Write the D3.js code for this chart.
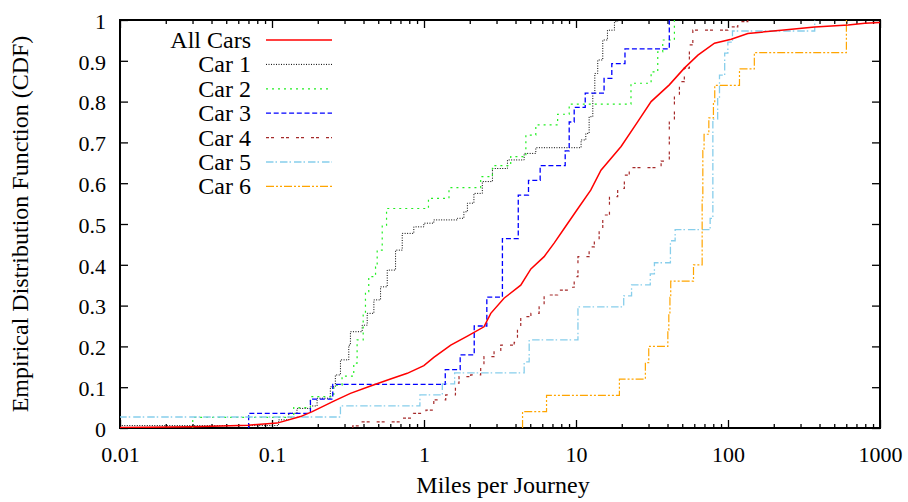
<!DOCTYPE html>
<html>
<head>
<meta charset="utf-8">
<script src="https://cdn.jsdelivr.net/npm/d3@7"></script>
<style>
  body { margin: 0; background: #fff; }
  svg { display: block; font-family: "Liberation Serif", "Times New Roman", serif; }
</style>
</head>
<body>
<svg id="chart"></svg>
<script>
// values (miles per journey, cumulative fraction)
const seriesNames = ["All Cars", "Car 1", "Car 2", "Car 3", "Car 4", "Car 5", "Car 6"];

const allMiles = [0.01, 0.0303, 0.0698, 0.108, 0.154, 0.184, 0.255, 0.328, 0.445, 0.602, 0.776, 0.998, 1.16, 1.50, 1.93, 2.48, 2.75, 3.36, 4.33, 5.05, 6.17, 7.18, 8.36, 10.3, 12.5, 14.6, 19.8, 25.5, 31.2, 41.1, 51.6, 63.4, 81.5, 105, 135, 224, 372, 617, 794, 1000];
const allCdf = [0.001, 0.003, 0.007, 0.012, 0.028, 0.04, 0.066, 0.085, 0.103, 0.12, 0.134, 0.153, 0.173, 0.203, 0.225, 0.248, 0.281, 0.318, 0.350, 0.390, 0.42, 0.453, 0.489, 0.538, 0.583, 0.632, 0.69, 0.751, 0.80, 0.841, 0.882, 0.914, 0.943, 0.953, 0.967, 0.975, 0.983, 0.988, 0.992, 0.994];

const car1Miles = [0.005, 0.1105, 0.129, 0.146, 0.179, 0.198, 0.242, 0.261, 0.282, 0.320, 0.328, 0.392, 0.423, 0.468, 0.518, 0.573, 0.650, 0.719, 0.857, 0.998, 1.16, 1.66, 1.83, 1.93, 2.13, 2.42, 2.82, 3.54, 4.56, 5.44, 10.8, 11.6, 12.2, 12.9, 13.3, 13.9, 15.0, 16.1, 17.9, 18.8];
const car1Cdf = [0.006, 0.02, 0.036, 0.048, 0.054, 0.073, 0.101, 0.13, 0.167, 0.203, 0.236, 0.252, 0.281, 0.314, 0.346, 0.387, 0.436, 0.477, 0.493, 0.502, 0.51, 0.514, 0.53, 0.551, 0.575, 0.604, 0.636, 0.657, 0.673, 0.687, 0.706, 0.722, 0.763, 0.82, 0.869, 0.902, 0.951, 0.975, 0.996, 1.0];

const car2Miles = [0.0301, 0.139, 0.179, 0.255, 0.289, 0.345, 0.363, 0.398, 0.412, 0.433, 0.480, 0.492, 0.531, 0.567, 1.07, 1.46, 2.36, 2.82, 3.72, 4.68, 5.44, 7.57, 9.02, 23.0, 31.2, 34.5, 37.2, 44.4];
const car2Cdf = [0.026, 0.05, 0.077, 0.105, 0.127, 0.159, 0.216, 0.277, 0.334, 0.371, 0.395, 0.436, 0.497, 0.538, 0.563, 0.589, 0.616, 0.643, 0.665, 0.718, 0.743, 0.769, 0.794, 0.845, 0.873, 0.922, 0.951, 1.0];

const car3Miles = [0.0702, 0.179, 0.251, 1.38, 1.73, 2.14, 2.59, 3.28, 4.17, 4.87, 5.81, 8.49, 9.02, 9.73, 11.5, 15.3, 17.2, 21.0, 41.1];
const car3Cdf = [0.036, 0.071, 0.107, 0.143, 0.179, 0.25, 0.321, 0.464, 0.571, 0.607, 0.643, 0.679, 0.75, 0.786, 0.821, 0.857, 0.893, 0.929, 1.0];

const car4Miles = [0.34, 0.392, 0.70, 0.853, 1.03, 1.16, 1.39, 1.61, 1.70, 2.03, 2.36, 2.48, 2.89, 3.20, 3.92, 4.12, 4.33, 5.05, 5.72, 6.17, 7.57, 9.25, 9.73, 10.3, 12.2, 13.2, 14.2, 15.0, 16.6, 18.8, 20.8, 22.4, 36.3, 41.1, 44.4, 47.9, 51.6, 55.7, 58.7, 99.8, 116, 135];
const car4Cdf = [0.005, 0.015, 0.024, 0.036, 0.044, 0.069, 0.081, 0.11, 0.126, 0.13, 0.15, 0.175, 0.19, 0.203, 0.21, 0.248, 0.273, 0.281, 0.297, 0.326, 0.338, 0.345, 0.371, 0.42, 0.444, 0.461, 0.485, 0.522, 0.567, 0.587, 0.62, 0.638, 0.654, 0.75, 0.816, 0.849, 0.882, 0.939, 0.975, 0.983, 0.996, 1.0];

const car5Miles = [0.005, 0.282, 0.94, 1.32, 1.59, 4.56, 4.92, 10.3, 20.6, 23.2, 30.8, 32.8, 41.8, 44.9, 76.3, 79.5, 85.5, 87.9, 95.1, 99.8, 107, 372];
const car5Cdf = [0.027, 0.054, 0.081, 0.108, 0.135, 0.162, 0.216, 0.297, 0.324, 0.351, 0.378, 0.405, 0.459, 0.486, 0.514, 0.757, 0.811, 0.865, 0.919, 0.946, 0.973, 1.0];

const car6Miles = [4.45, 6.4, 19.3, 28.6, 30.1, 40.2, 40.8, 41.5, 42.0, 59.3, 67.6, 68.3, 69.6, 74.8, 80.2, 81.8, 119, 149, 601];
const car6Cdf = [0.04, 0.08, 0.12, 0.16, 0.2, 0.24, 0.28, 0.32, 0.36, 0.40, 0.56, 0.68, 0.72, 0.76, 0.80, 0.84, 0.88, 0.92, 1.0];

const xTickValues = [0.01, 0.1, 1, 10, 100, 1000];
const xTickLabels = ["0.01", "0.1", "1", "10", "100", "1000"];
const yTickValues = [0, 0.1, 0.2, 0.3, 0.4, 0.5, 0.6, 0.7, 0.8, 0.9, 1];
const yTickLabels = ["0", "0.1", "0.2", "0.3", "0.4", "0.5", "0.6", "0.7", "0.8", "0.9", "1"];

const seriesMiles = [allMiles, car1Miles, car2Miles, car3Miles, car4Miles, car5Miles, car6Miles];
const seriesCdf = [allCdf, car1Cdf, car2Cdf, car3Cdf, car4Cdf, car5Cdf, car6Cdf];

// styles
const colors = ["#ff0000", "#000000", "#22ee22", "#0000ff", "#a52a2a", "#87ceeb", "#ffa500"];
const dashes = [null, "1,1.5", "2,4", "5,2.7", "3,2,3,7", "7.5,2,1.5,3", "8,2,2,2,2,2"];
const widths = [1.5, 1, 1.2, 1.3, 1.2, 1.3, 1.2];

const W = 908, H = 502;
const margin = { top: 20, right: 28, bottom: 74, left: 120 };
const width = W - margin.left - margin.right;
const height = H - margin.top - margin.bottom;

const svgEl = d3.select("#chart").attr("width", W).attr("height", H);
const svg = svgEl.append("g").attr("transform", `translate(${margin.left},${margin.top})`);

const xScale = d3.scaleLog().domain([0.01, 1000]).range([0, width]);
const yScale = d3.scaleLinear().domain([0, 1]).range([height, 0]);

svg.append("clipPath").attr("id", "plotclip")
  .append("rect").attr("width", width).attr("height", height);

// minor ticks for the log axis
const minorTicks = [];
xTickValues.slice(0, -1).forEach((d) => {
  for (let k = 2; k <= 9; k++) minorTicks.push(d * k);
});

const tickFont = "22px";

// d3 axes put sans-serif on their groups, drop it so the page serif is used
function plain(g) {
  g.attr("font-family", null).attr("font-size", null);
  g.select(".domain").remove();
  return g;
}

// bottom axis with labels
const xAxis = d3.axisBottom(xScale)
  .tickValues(xTickValues)
  .tickFormat((d, i) => xTickLabels[i])
  .tickSizeInner(-8).tickSizeOuter(0).tickPadding(18);
const xAxisGroup = plain(svg.append("g").attr("transform", `translate(0,${height})`).call(xAxis));
xAxisGroup.selectAll("text").attr("font-size", tickFont).attr("fill", "#000");

plain(svg.append("g").attr("transform", `translate(0,${height})`)
  .call(d3.axisBottom(xScale).tickValues(minorTicks).tickFormat("").tickSizeInner(-4).tickSizeOuter(0)));

// top mirror ticks
plain(svg.append("g").call(d3.axisTop(xScale).tickValues(xTickValues).tickFormat("").tickSizeInner(-8).tickSizeOuter(0)));
plain(svg.append("g").call(d3.axisTop(xScale).tickValues(minorTicks).tickFormat("").tickSizeInner(-4).tickSizeOuter(0)));

// left axis with labels
const yAxis = d3.axisLeft(yScale)
  .tickValues(yTickValues)
  .tickFormat((d, i) => yTickLabels[i])
  .tickSizeInner(-8).tickSizeOuter(0).tickPadding(14);
const yAxisGroup = plain(svg.append("g").call(yAxis));
yAxisGroup.selectAll("text").attr("font-size", tickFont).attr("fill", "#000").attr("dy", "0.38em");

plain(svg.append("g").attr("transform", `translate(${width},0)`)
  .call(d3.axisRight(yScale).tickValues(yTickValues).tickFormat("").tickSizeInner(-8).tickSizeOuter(0)));

svg.selectAll(".tick line").attr("stroke", "#000").attr("stroke-width", 1.3);

// frame
svg.append("rect")
  .attr("width", width).attr("height", height)
  .attr("fill", "none").attr("stroke", "#000").attr("stroke-width", 2);

// lines
const stepLine = d3.line()
  .x((d) => xScale(d[0]))
  .y((d) => yScale(d[1]))
  .curve(d3.curveStepAfter);
const smoothLine = d3.line()
  .x((d) => xScale(d[0]))
  .y((d) => yScale(d[1]));

const plot = svg.append("g").attr("clip-path", "url(#plotclip)");

// draw cars first, all cars on top
const order = [1, 2, 3, 4, 5, 6, 0];
order.forEach((i) => {
  const pts = seriesMiles[i].map((m, j) => [m, seriesCdf[i][j]]);
  let d;
  if (i === 0) {
    d = smoothLine(pts);
  } else {
    d = stepLine([[pts[0][0], 0]].concat(pts));
  }
  plot.append("path")
    .attr("d", d)
    .attr("fill", "none")
    .attr("stroke", colors[i])
    .attr("stroke-width", widths[i])
    .attr("stroke-dasharray", dashes[i]);
});

// legend
const legend = svg.append("g");
seriesNames.forEach((name, i) => {
  const ly = 20 + i * 24.4;
  legend.append("text")
    .attr("x", 131).attr("y", ly).attr("dy", "0.33em")
    .attr("text-anchor", "end")
    .attr("font-size", "24px")
    .text(name);
  legend.append("line")
    .attr("x1", 146).attr("x2", 212).attr("y1", ly).attr("y2", ly)
    .attr("stroke", colors[i])
    .attr("stroke-width", widths[i])
    .attr("stroke-dasharray", dashes[i]);
});

// axis titles
svg.append("text")
  .attr("x", width / 2 + 3).attr("y", height + 65)
  .attr("text-anchor", "middle")
  .attr("font-size", "24px")
  .text("Miles per Journey");

svg.append("text")
  .attr("transform", `translate(${-92},${height / 2}) rotate(-90)`)
  .attr("text-anchor", "middle")
  .attr("font-size", "24px")
  .text("Empirical Distribution Function (CDF)");
</script>
</body>
</html>
